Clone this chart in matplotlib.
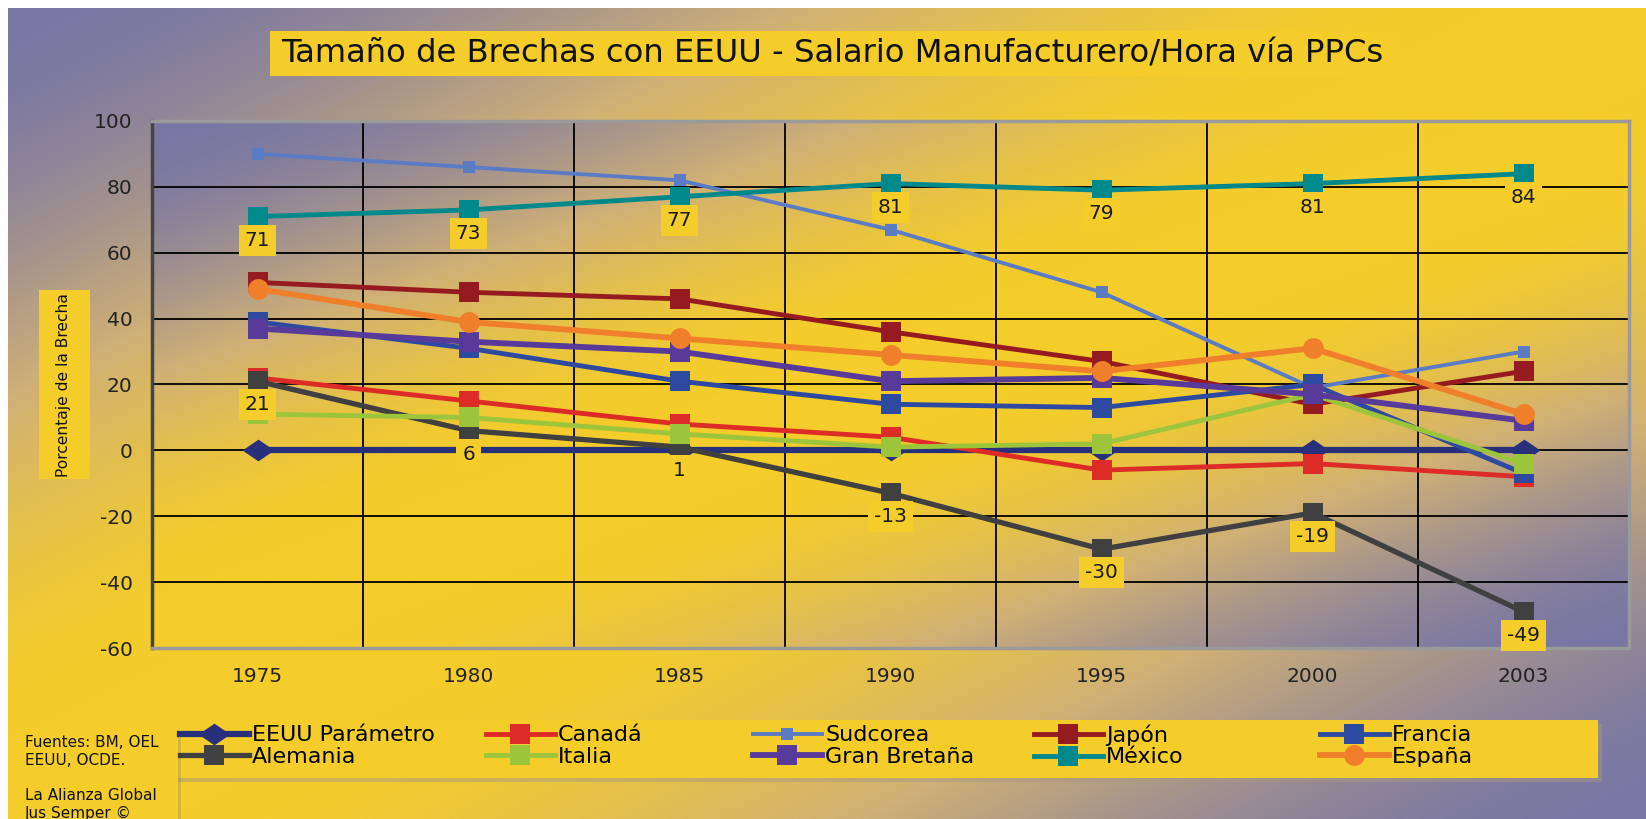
import numpy as np
import matplotlib
matplotlib.use("Agg")
import matplotlib.pyplot as plt
from matplotlib.patches import Rectangle

plt.rcParams["axes.unicode_minus"] = False

years = ["1975", "1980", "1985", "1990", "1995", "2000", "2003"]

eeuu = [0, 0, 0, 0, 0, 0, 0]
canada = [22, 15, 8, 4, -6, -4, -8]
sudcorea = [90, 86, 82, 67, 48, 19, 30]
japon = [51, 48, 46, 36, 27, 14, 24]
francia = [39, 31, 21, 14, 13, 20, -7]
alemania = [21, 6, 1, -13, -30, -19, -49]
italia = [11, 10, 5, 1, 2, 17, -4]
gran_bretana = [37, 33, 30, 21, 22, 17, 9]
mexico = [71, 73, 77, 81, 79, 81, 84]
espana = [49, 39, 34, 29, 24, 31, 11]

W, H = 1646, 819
STOPS = [0.0, 0.45, 1.0]
STOP_COLORS = np.array([[244, 205, 43], [208, 176, 118], [120, 118, 164]]) / 255
YEL = "#f4cd2b"


def gradient(nx, ny):
    u = np.linspace(0, 1, nx)[None, :]
    v = np.linspace(0, 1, ny)[:, None]
    d = np.abs((u + v) / 2 - 0.5) * 2
    k = np.clip((d - 0.1) / 0.9, 0, 1)
    k = k * k * (3 - 2 * k)
    chans = [np.interp(k, STOPS, STOP_COLORS[:, c]) for c in range(3)]
    return np.stack(chans, axis=-1)


def fbox(x0, y0, x1, y1, **kw):
    # rectangle in figure pixels (y from top)
    r = Rectangle((x0 / W, 1 - y1 / H), (x1 - x0) / W, (y1 - y0) / H,
                  transform=fig.transFigure, **kw)
    fig.patches.append(r)
    return r


fig = plt.figure(figsize=(W / 100, H / 100), dpi=100, facecolor="white")

bg = fig.add_axes([8 / W, 0, 1 - 8 / W, 1 - 8 / H], zorder=-10)
bg.imshow(gradient(400, 200), aspect="auto", interpolation="bilinear")
bg.axis("off")

ax = fig.add_axes([152 / W, 1 - 648 / H, (1629 - 152) / W, (648 - 121) / H])
ax.patch.set_visible(False)
ax.imshow(gradient(400, 200), extent=(-0.5, 6.5, -60, 100), aspect="auto",
          interpolation="bilinear", zorder=0)

wide_diamond = [(-1, 0), (0, 0.68), (1, 0), (0, -0.68), (-1, 0)]

series = [
    ("EEUU Parámetro", eeuu, "#28307c", wide_diamond, 23, 4.5),
    ("Canadá", canada, "#dd2c27", "s", 14, 3.5),
    ("Sudcorea", sudcorea, "#5b7cc4", "s", 9, 2.8),
    ("Japón", japon, "#961b20", "s", 15, 3.5),
    ("Francia", francia, "#2e4aa0", "s", 15, 3.5),
    ("Alemania", alemania, "#404040", "s", 15, 3.8),
    ("Italia", italia, "#9dc53c", "s", 15, 3.5),
    ("Gran Bretaña", gran_bretana, "#573a99", "s", 15, 4.2),
    ("México", mexico, "#00898a", "s", 15, 3.5),
    ("España", espana, "#ef7f2a", "o", 15, 4.2),
]

x = np.arange(len(years))
handles = {}
for z, (name, vals, col, mk, ms, lw) in enumerate(series):
    ln, = ax.plot(x, vals, color=col, marker=mk, ms=ms, lw=lw, mew=0,
                  zorder=3 + z, label=name)
    handles[name] = ln

for vals in (mexico, alemania):
    for i, v in enumerate(vals):
        ax.annotate(str(v), (i, v), xytext=(0, -17), textcoords="offset points",
                    ha="center", va="center", fontsize=14.5, color="#1a1a1a",
                    bbox=dict(boxstyle="square,pad=0.3", fc=YEL, ec="none"),
                    zorder=30)

ax.set_xlim(-0.5, 6.5)
ax.set_ylim(-60, 100)
ax.set_xticks(x)
ax.set_xticklabels(years)
ax.set_xticks(np.arange(-0.5, 7, 1), minor=True)
ax.set_yticks(range(-60, 101, 20))
ax.tick_params(which="both", length=0)
ax.tick_params(axis="y", labelsize=14.5, pad=14, labelcolor="#222222")
ax.tick_params(axis="x", labelsize=14.5, pad=14, labelcolor="#222222")
ax.grid(which="minor", axis="x", color="black", lw=1.3)
ax.grid(which="major", axis="y", color="black", lw=1.3)
ax.grid(False, which="major", axis="x")
for s in ("top", "right", "bottom"):
    ax.spines[s].set_color("#9a9a9a")
    ax.spines[s].set_linewidth(2.5)
ax.spines["left"].set_color("#444444")
ax.spines["left"].set_linewidth(2.5)

# title
fbox(270, 31, 1394, 76, fc=YEL, ec="none")
title = fig.text(832 / W, 1 - 54 / H, "Tamaño de Brechas con EEUU - Salario Manufacturero/Hora vía PPCs",
                 ha="center", va="center", fontsize=22, color="#111111")

# y label
fbox(39, 290, 90, 479, fc=YEL, ec="none")
ylab = fig.text(64 / W, 1 - 385 / H, "Porcentaje de la Brecha", rotation=90,
                ha="center", va="center", fontsize=15, color="#111111")

r = fig.canvas.get_renderer()
tw = title.get_window_extent(r).width
title.set_fontsize(title.get_fontsize() * 1105 / tw)
th = ylab.get_window_extent(r).height
ylab.set_fontsize(ylab.get_fontsize() * 184 / th)

# legend band
fbox(174, 724, 1602, 782, fc="#a89880", ec="none", alpha=0.5, zorder=0.9)
fbox(170, 720, 1598, 778, fc=YEL, ec="none", zorder=1)
columns = [["EEUU Parámetro", "Alemania"], ["Canadá", "Italia"],
           ["Sudcorea", "Gran Bretaña"], ["Japón", "México"],
           ["Francia", "España"]]
col_x = [180, 486, 753, 1034, 1320]
for cx, names in zip(col_x, columns):
    fig.legend([handles[n] for n in names], names, loc="center left",
               bbox_to_anchor=(cx / W, 1 - 746 / H), frameon=False,
               fontsize=16, handlelength=3.1, handletextpad=0.15,
               labelspacing=0.05, borderpad=0, borderaxespad=0, numpoints=1)

# sources box
fbox(22, 736, 181, 822, fc="#8a7a60", ec="none", alpha=0.3, zorder=2.9)
fbox(19, 733, 178, 819, fc=YEL, ec="none", zorder=3)
fig.text(25 / W, 1 - 735 / H, "Fuentes: BM, OEL\nEEUU, OCDE.\n\nLa Alianza Global\nJus Semper ©",
         ha="left", va="top", fontsize=11, linespacing=1.22, color="#111111", zorder=4)

fig.savefig("out.png", dpi=100, facecolor="white")
